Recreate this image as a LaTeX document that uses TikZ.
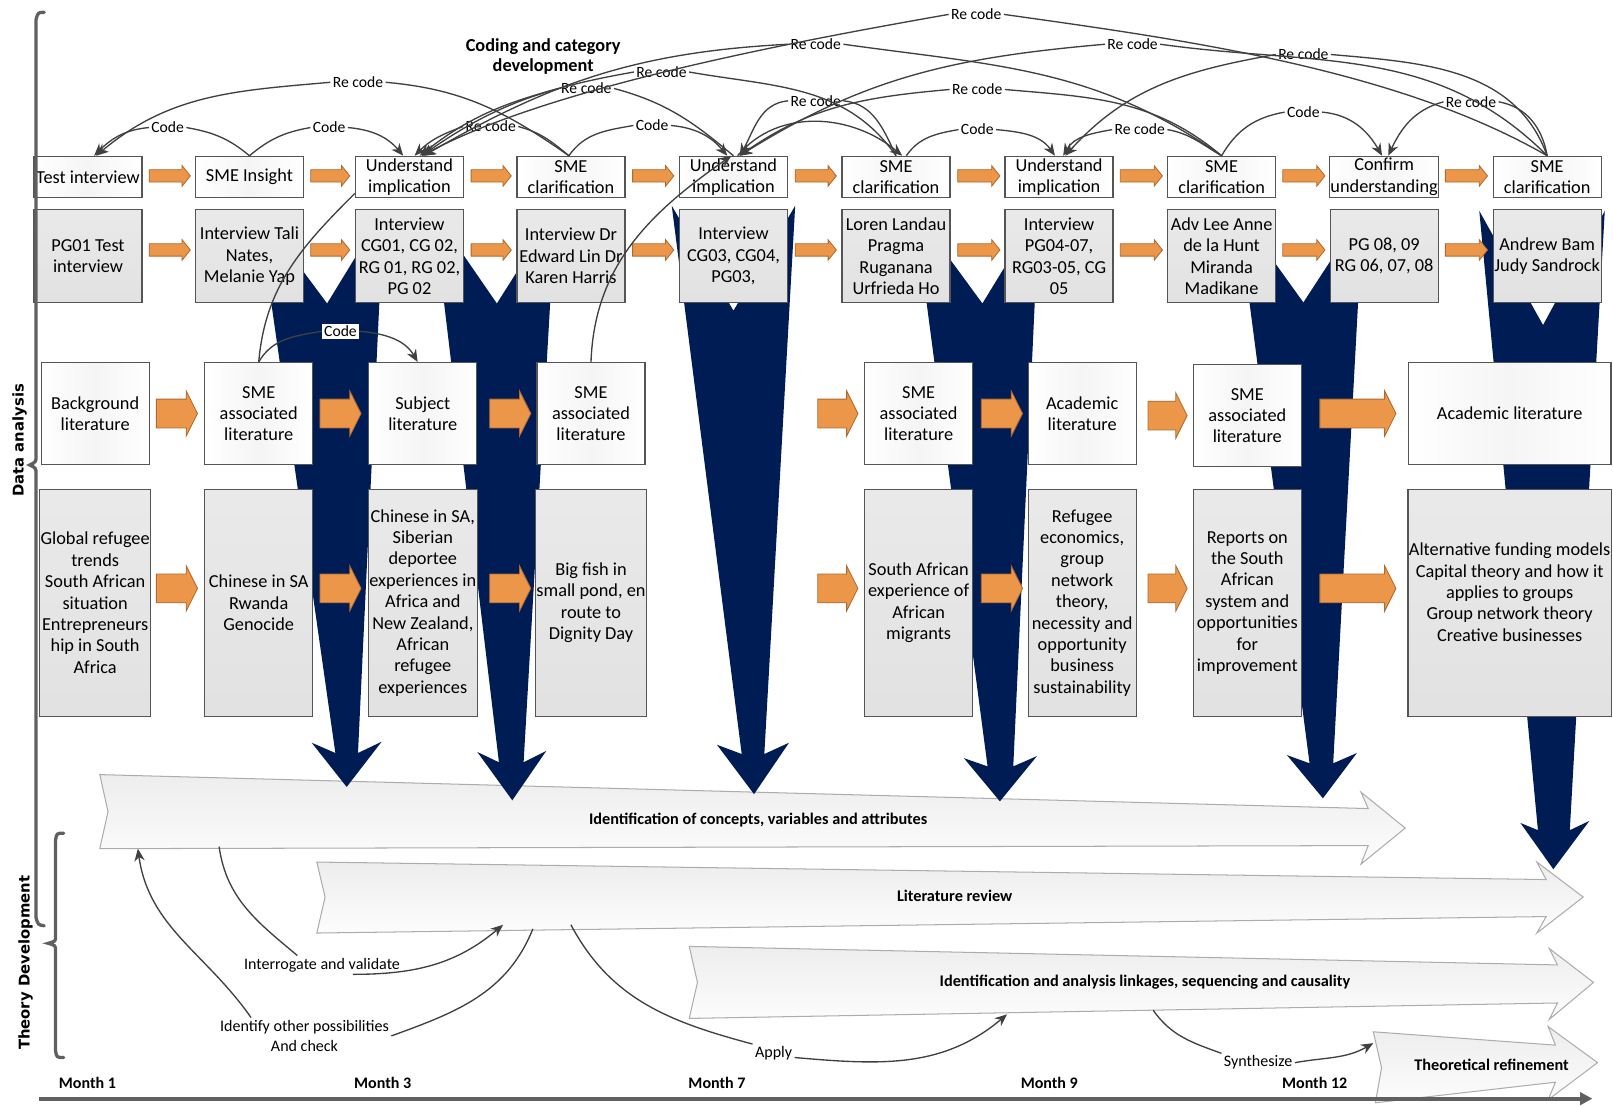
\documentclass[tikz,border=0pt]{standalone}
\usepackage{fontspec}
\setmainfont{Carlito}
\newfontfamily\sidefamily{DejaVu Sans}
\usetikzlibrary{arrows.meta}

\definecolor{funnelblue}{RGB}{0,28,84}
\definecolor{blockfill}{RGB}{236,150,74}
\definecolor{blockedge}{RGB}{175,105,45}
\definecolor{boxedge}{RGB}{85,85,85}
\definecolor{linkgray}{RGB}{64,64,64}

\newcommand{\boxtxt}{\fontsize{8.9}{10.4}\selectfont}
\newcommand{\codetxt}{\fontsize{7.6}{9}\selectfont}
\newcommand{\headtxt}{\fontsize{8.9}{10}\selectfont\bfseries}
\newcommand{\titletxt}{\fontsize{7.9}{9}\selectfont\bfseries}
\newcommand{\notetxt}{\fontsize{7.8}{10}\selectfont}
\newcommand{\monthtxt}{\fontsize{7.8}{9}\selectfont\bfseries}
\newcommand{\sidetxt}{\sidefamily\bfseries\fontsize{7.2}{9}\selectfont}

% small orange arrow between the boxes of rows 1 and 2
\newcommand{\rowarrow}[3]{\draw[blockarrow] (#1,{#3-6}) -- ({#2-8},{#3-6}) -- ({#2-8},{#3-10}) -- (#2,#3) -- ({#2-8},{#3+10}) -- ({#2-8},{#3+6}) -- (#1,{#3+6}) -- cycle;}
% wide orange arrow between the literature boxes
\newcommand{\litarrow}[3]{\draw[blockarrow] (#1,{#3-14}) -- ({#2-11},{#3-14}) -- ({#2-11},{#3-22}) -- (#2,#3) -- ({#2-11},{#3+22}) -- ({#2-11},{#3+14}) -- (#1,{#3+14}) -- cycle;}

\tikzset{
  whitebox/.style={draw=boxedge, line width=0.6pt, left color=white, right color=white, middle color=gray!8, align=center, inner sep=0.5pt, font=\boxtxt},
  greybox/.style={draw=boxedge, line width=0.6pt, top color=gray!17, bottom color=gray!23, align=center, inner sep=0.5pt, font=\boxtxt},
  toprow/.style={minimum width=52.5pt, minimum height=20pt},
  peoplerow/.style={minimum width=52.5pt, minimum height=45pt},
  litrow/.style={minimum width=52.5pt, minimum height=49.5pt},
  topicrow/.style={minimum width=52.5pt, minimum height=110.5pt},
  widebox/.style={minimum width=98.5pt},
  codelabel/.style={font=\codetxt, inner sep=1pt},
  linkline/.style={draw=linkgray, line width=0.65pt},
  linkarrow/.style={linkline, -{Stealth[length=6pt,width=5pt]}},
  funnel/.style={fill=funnelblue},
  blockarrow/.style={fill=blockfill, draw=blockedge, line width=0.4pt},
  theoryarrow/.style={draw=gray!65, line width=0.5pt, top color=gray!14, bottom color=gray!2},
  arrowtitle/.style={font=\titletxt, inner sep=1pt},
  notelabel/.style={font=\notetxt, inner sep=1pt, align=center},
  monthlabel/.style={font=\monthtxt, inner sep=1pt},
  bracket/.style={draw=gray!75!black, line width=1.6pt, line cap=round},
  timeline/.style={draw=gray!75!black, line width=2pt, -{Triangle[length=6pt,width=6pt]}},
  sidelabel/.style={font=\sidetxt, rotate=90, inner sep=1pt}
}

\begin{document}
\begin{tikzpicture}[x=0.5pt,y=-0.5pt]
    \useasboundingbox (0,0) rectangle (1568,1075);

    % Theory development arrows
    \draw[theoryarrow] (97,753) -- (1330,786) -- (1323,770) -- (1366,805) -- (1323,840) -- (1330,822) -- (97,825) -- (105,789) -- cycle;
    \draw[theoryarrow] (308,838) -- (1503,855) -- (1494,838) -- (1539,872) -- (1494,907) -- (1503,891) -- (308,907) -- (316,872) -- cycle;
    \draw[theoryarrow] (670,920) -- (1514,938) -- (1506,922) -- (1549,955) -- (1506,991) -- (1514,975) -- (670,990) -- (678,955) -- cycle;
    \draw[theoryarrow] (1335,1003) -- (1512,1016) -- (1505,998) -- (1553,1033) -- (1505,1069) -- (1512,1052) -- (1337,1072) -- (1343,1038) -- cycle;
    \node[arrowtitle] (tConcepts) at (737,797) {Identification of concepts, variables and attributes};
    \node[arrowtitle] (tReview) at (928,871) {Literature review};
    \node[arrowtitle] (tLinks) at (1113,955) {Identification and analysis linkages, sequencing and causality};
    \node[arrowtitle] (tRefine) at (1450,1035) {Theoretical refinement};

    % Navy funnels from the interviews down to the concepts
    \fill[funnel] (251,205) -- (318,295) -- (373,205) -- (348,732) -- (371,721) -- (337,765) -- (303,722) -- (326,732) -- cycle;
    \fill[funnel] (421,205) -- (483,295) -- (540,205) -- (509,741) -- (531,730) -- (498,778) -- (464,731) -- (485,741) -- cycle;
    \fill[funnel] (653,200) -- (713,302) -- (773,200) -- (743,733) -- (767,722) -- (733,772) -- (697,724) -- (721,733) -- cycle;
    \fill[funnel] (889,205) -- (955,295) -- (1010,205) -- (985,745) -- (1008,735) -- (972,779) -- (937,737) -- (960,745) -- cycle;
    \fill[funnel] (1203,205) -- (1267,294) -- (1325,205) -- (1296,742) -- (1319,732) -- (1286,776) -- (1251,734) -- (1273,742) -- cycle;
    \fill[funnel] (1438,205) -- (1500,316) -- (1560,205) -- (1526,807) -- (1545,798) -- (1510,845) -- (1478,800) -- (1495,807) -- cycle;

    % Row 1: coding steps
    \node[whitebox, toprow] (b0) at (85.5,172) {Test interview};
    \node[whitebox, toprow] (b1) at (242.5,172) {SME Insight};
    \node[whitebox, toprow] (b2) at (398,172) {Understand\\implication};
    \node[whitebox, toprow] (b3) at (555,172) {SME\\clarification};
    \node[whitebox, toprow] (b4) at (713,172) {Understand\\implication};
    \node[whitebox, toprow] (b5) at (871,172) {SME\\clarification};
    \node[whitebox, toprow] (b6) at (1029.5,172) {Understand\\implication};
    \node[whitebox, toprow] (b7) at (1187.5,172) {SME\\clarification};
    \node[whitebox, toprow] (b8) at (1345.5,172) {Confirm\\understanding};
    \node[whitebox, toprow] (b9) at (1504,172) {SME\\clarification};

    % Row 2: interviews
    \node[greybox, peoplerow] (p0) at (85.5,249) {PG01 Test\\interview};
    \node[greybox, peoplerow] (p1) at (242.5,249) {Interview Tali\\Nates,\\Melanie Yap};
    \node[greybox, peoplerow] (p2) at (398,249) {Interview\\CG01, CG 02,\\RG 01, RG 02,\\PG 02};
    \node[greybox, peoplerow] (p3) at (555,249) {Interview Dr\\Edward Lin Dr\\Karen Harris};
    \node[greybox, peoplerow] (p4) at (713,249) {Interview\\CG03, CG04,\\PG03,};
    \node[greybox, peoplerow] (p5) at (871,249) {Loren Landau\\Pragma\\Ruganana\\Urfrieda Ho};
    \node[greybox, peoplerow] (p6) at (1029.5,249) {Interview\\PG04-07,\\RG03-05, CG\\05};
    \node[greybox, peoplerow] (p7) at (1187.5,249) {Adv Lee Anne\\de la Hunt\\Miranda\\Madikane};
    \node[greybox, peoplerow] (p8) at (1345.5,249) {PG 08, 09\\RG 06, 07, 08};
    \node[greybox, peoplerow] (p9) at (1504,249) {Andrew Bam\\Judy Sandrock};

    % Row 3: literature
    \node[whitebox, litrow] (l0) at (92.5,402) {Background\\literature};
    \node[whitebox, litrow] (l1) at (251.5,402) {SME\\associated\\literature};
    \node[whitebox, litrow] (l2) at (411,402) {Subject\\literature};
    \node[whitebox, litrow] (l3) at (574.5,402) {SME\\associated\\literature};
    \node[whitebox, litrow] (l5) at (893,402) {SME\\associated\\literature};
    \node[whitebox, litrow] (l6) at (1052,402) {Academic\\literature};
    \node[whitebox, litrow] (l7) at (1212.5,404) {SME\\associated\\literature};
    \node[whitebox, litrow, widebox] (l8) at (1467.5,402) {Academic literature};

    % Row 4: topics
    \node[greybox, topicrow] (t0) at (92.5,586) {Global refugee\\trends\\South African\\situation\\Entrepreneurs\\hip in South\\Africa};
    \node[greybox, topicrow] (t1) at (251.5,586) {Chinese in SA\\Rwanda\\Genocide};
    \node[greybox, topicrow] (t2) at (411,586) {Chinese in SA,\\Siberian\\deportee\\experiences in\\Africa and\\New Zealand,\\African\\refugee\\experiences};
    \node[greybox, topicrow] (t3) at (574.5,586) {Big fish in\\small pond, en\\route to\\Dignity Day};
    \node[greybox, topicrow] (t5) at (893,586) {South African\\experience of\\African\\migrants};
    \node[greybox, topicrow] (t6) at (1052,586) {Refugee\\economics,\\group\\network\\theory,\\necessity and\\opportunity\\business\\sustainability};
    \node[greybox, topicrow] (t7) at (1212.5,586) {Reports on\\the South\\African\\system and\\opportunities\\for\\improvement};
    \node[greybox, topicrow, widebox] (t8) at (1467.5,586) {Alternative funding models\\Capital theory and how it\\applies to groups\\Group network theory\\Creative businesses\\};

    % Orange arrows, rows 1 and 2
    \rowarrow{145}{185}{171} \rowarrow{145}{185}{243}
    \rowarrow{302}{340}{171} \rowarrow{302}{340}{243}
    \rowarrow{458}{497}{171} \rowarrow{458}{497}{243}
    \rowarrow{615}{655}{171} \rowarrow{615}{655}{243}
    \rowarrow{773}{813}{171} \rowarrow{773}{813}{243}
    \rowarrow{931}{972}{171} \rowarrow{931}{972}{243}
    \rowarrow{1089}{1130}{171} \rowarrow{1089}{1130}{243}
    \rowarrow{1247}{1288}{171} \rowarrow{1247}{1288}{243}
    \rowarrow{1405}{1446}{171} \rowarrow{1405}{1446}{243}

    % Orange arrows, rows 3 and 4
    \litarrow{152}{192}{402} \litarrow{152}{192}{572}
    \litarrow{311}{351}{402} \litarrow{311}{351}{572}
    \litarrow{476}{516}{402} \litarrow{476}{516}{572}
    \litarrow{795}{834}{402} \litarrow{795}{834}{572}
    \litarrow{954}{994}{402} \litarrow{954}{994}{572}
    \litarrow{1116}{1154}{404} \litarrow{1116}{1154}{572}
    \litarrow{1283}{1357}{402} \litarrow{1283}{1357}{572}

    % Heading over the coding links
    \node[font=\headtxt, align=center, inner sep=1pt] (hCoding) at (528,55) {Coding and category\\development};

    % Code and re code labels
    \node[codelabel] (lA) at (163,124) {Code};
    \node[codelabel] (lB) at (320,124) {Code};
    \node[codelabel] (lC) at (348,80) {Re code};
    \node[codelabel] (lD) at (477,123) {Re code};
    \node[codelabel] (lE) at (634,122) {Code};
    \node[codelabel] (lJ) at (570,86) {Re code};
    \node[codelabel] (lI) at (643,70) {Re code};
    \node[codelabel] (lH) at (793,43) {Re code};
    \node[codelabel] (lF) at (949,14) {Re code};
    \node[codelabel] (lK) at (793,98) {Re code};
    \node[codelabel] (lL) at (950,126) {Code};
    \node[codelabel] (lM) at (950,87) {Re code};
    \node[codelabel] (lG) at (1101,43) {Re code};
    \node[codelabel] (lN) at (1108,126) {Re code};
    \node[codelabel] (lO) at (1267,53) {Re code};
    \node[codelabel] (lP) at (1267,109) {Code};
    \node[codelabel] (lQ) at (1430,99) {Re code};
    \node[codelabel, fill=white] (lR) at (331,322) {Code};

    % From SME Insight
    \draw[linkline] (b1.north) to[out=140,in=-10] (lA.east);
    \draw[linkarrow] (lA.west) to[out=185,in=45] ([xshift=3pt]b0.north);
    \draw[linkline] (b1.north) to[out=40,in=190] (lB.west);
    \draw[linkarrow] (lB.east) to[out=-5,in=130] ([xshift=-3pt]b2.north);

    % From the first SME clarification
    \draw[linkline] ([xshift=-1pt]b3.north) to[out=145,in=-5] (lC.east);
    \draw[linkarrow] (lC.west) to[out=185,in=40] ([xshift=4pt]b0.north);
    \draw[linkline] ([xshift=-1pt]b3.north) to[out=140,in=-15] (lD.east);
    \draw[linkarrow] (lD.west) to[out=200,in=45] ([xshift=2.5pt]b2.north);
    \draw[linkline] ([xshift=-1pt]b3.north) to[out=55,in=190] (lE.west);
    \draw[linkarrow] (lE.east) to[out=-5,in=130] ([xshift=-3pt]b4.north);

    % From the second understand implication
    \draw[linkline] (b4.north) to[out=140,in=-15] (lJ.east);
    \draw[linkarrow] (lJ.west) to[out=195,in=38] ([xshift=5pt]b2.north);
    \draw[linkarrow] ([xshift=2pt]b4.north) to[out=50,in=140] ([xshift=3pt]b5.north);

    % From the second SME clarification
    \draw[linkline] (b5.north) to[out=125,in=-10] (lI.east);
    \draw[linkarrow] (lI.west) to[out=190,in=35] ([xshift=6pt]b2.north);
    \draw[linkline] (b5.north) to[out=115,in=-5] (lK.east);
    \draw[linkarrow] (lK.west) to[out=185,in=60] ([xshift=3pt]b4.north);
    \draw[linkline] ([xshift=5pt]b5.north) to[out=55,in=190] (lL.west);
    \draw[linkarrow] (lL.east) to[out=-5,in=125] ([xshift=-2pt]b6.north);

    % From the third SME clarification
    \draw[linkline] (b7.north) to[out=145,in=-8] (lH.east);
    \draw[linkarrow] (lH.west) to[out=183,in=30] ([xshift=7pt]b2.north);
    \draw[linkline] (b7.north) to[out=140,in=-5] (lM.east);
    \draw[linkarrow] (lM.west) to[out=185,in=35] ([xshift=3pt]b4.north);
    \draw[linkline] (b7.north) to[out=150,in=-10] (lN.east);
    \draw[linkarrow] (lN.west) to[out=190,in=60] ([xshift=2pt]b6.north);
    \draw[linkline] (b7.north) to[out=60,in=190] (lP.west);
    \draw[linkarrow] (lP.east) to[out=-5,in=120] ([xshift=-1pt]b8.north);

    % From the last SME clarification
    \draw[linkline] (b9.north) to[out=150,in=-8,looseness=0.8] (lF.east);
    \draw[linkarrow] (lF.west) to[out=190,in=28,looseness=0.7] ([xshift=6pt]b2.north);
    \draw[linkline] (b9.north) to[out=135,in=-8] (lG.east);
    \draw[linkarrow] (lG.west) to[out=185,in=32] ([xshift=3pt]b4.north);
    \draw[linkline] (b9.north) to[out=110,in=-5] (lO.east);
    \draw[linkarrow] (lO.west) to[out=190,in=48] ([xshift=3pt]b6.north);
    \draw[linkline] (b9.north) to[out=100,in=-10] (lQ.east);
    \draw[linkarrow] (lQ.west) to[out=195,in=65] ([xshift=2pt]b8.north);

    % Literature back to the coding steps
    \draw[linkline] (l1.north) to[out=85,in=225] ([yshift=-8pt]b2.west);
    \draw[linkline] (l1.north) to[out=60,in=190] (lR.west);
    \draw[linkarrow] (lR.east) to[out=-5,in=120] ([xshift=-2.5pt]l2.north);
    \draw[linkarrow] (l3.north) to[out=88,in=215] ([xshift=-1pt]b4.north);

    % Links between the theory arrows
    \coordinate (qInt) at (213,823);
    \coordinate (qLit) at (489,899);
    \coordinate (qBack) at (134,825);
    \coordinate (qLit2) at (518,903);
    \coordinate (qLit3) at (555,899);
    \coordinate (qLink) at (979,986);
    \coordinate (qLink2) at (1121,982);
    \coordinate (qTheo) at (1335,1014);
    \node[notelabel] (nInt) at (313,938) {Interrogate and validate};
    \node[notelabel] (nIdf) at (296,1007) {Identify other possibilities\\And check};
    \node[notelabel] (nApp) at (752,1024) {Apply};
    \node[notelabel] (nSyn) at (1223,1033) {Synthesize};
    \draw[linkline] (qInt) to[out=-82,in=140] ([xshift=-12pt]nInt.north);
    \draw[linkarrow] ([xshift=15pt]nInt.south) to[out=0,in=-140] (qLit);
    \draw[linkarrow] ([xshift=-26pt]nIdf.north) to[out=125,in=-82] (qBack);
    \draw[linkline] (qLit2) to[out=-112,in=20] (nIdf.east);
    \draw[linkline] (qLit3) to[out=-62,in=165] (nApp.north west);
    \draw[linkarrow] ([yshift=-2pt]nApp.east) to[out=-5,in=-140] (qLink);
    \draw[linkline] (qLink2) to[out=-55,in=160] (nSyn.north west);
    \draw[linkarrow] (nSyn.east) to[out=10,in=-150] (qTheo);

    % Brackets and side labels
    \draw[bracket] (43,12) .. controls (37,12) .. (35,19) -- (35,443) .. controls (35,449) .. (29,452) .. controls (35,455) .. (35,461) -- (35,892) .. controls (37,899) .. (43,900);
    \draw[bracket] (62,810) .. controls (55,810) .. (54,817) -- (54,910) .. controls (54,915) .. (47,917) .. controls (54,919) .. (54,925) -- (54,1021) .. controls (55,1028) .. (62,1028);
    \node[sidelabel] (sData) at (19,428) {Data analysis};
    \node[sidelabel] (sTheory) at (25,936) {Theory Development};

    % Time line
    \coordinate (tStart) at (38,1068);
    \coordinate (tEnd) at (1548,1068);
    \draw[timeline] (tStart) -- (tEnd);
    \node[monthlabel] (m1) at (85,1053) {Month 1};
    \node[monthlabel] (m3) at (372,1053) {Month 3};
    \node[monthlabel] (m7) at (697,1053) {Month 7};
    \node[monthlabel] (m9) at (1020,1053) {Month 9};
    \node[monthlabel] (m12) at (1278,1053) {Month 12};
\end{tikzpicture}
\end{document}
